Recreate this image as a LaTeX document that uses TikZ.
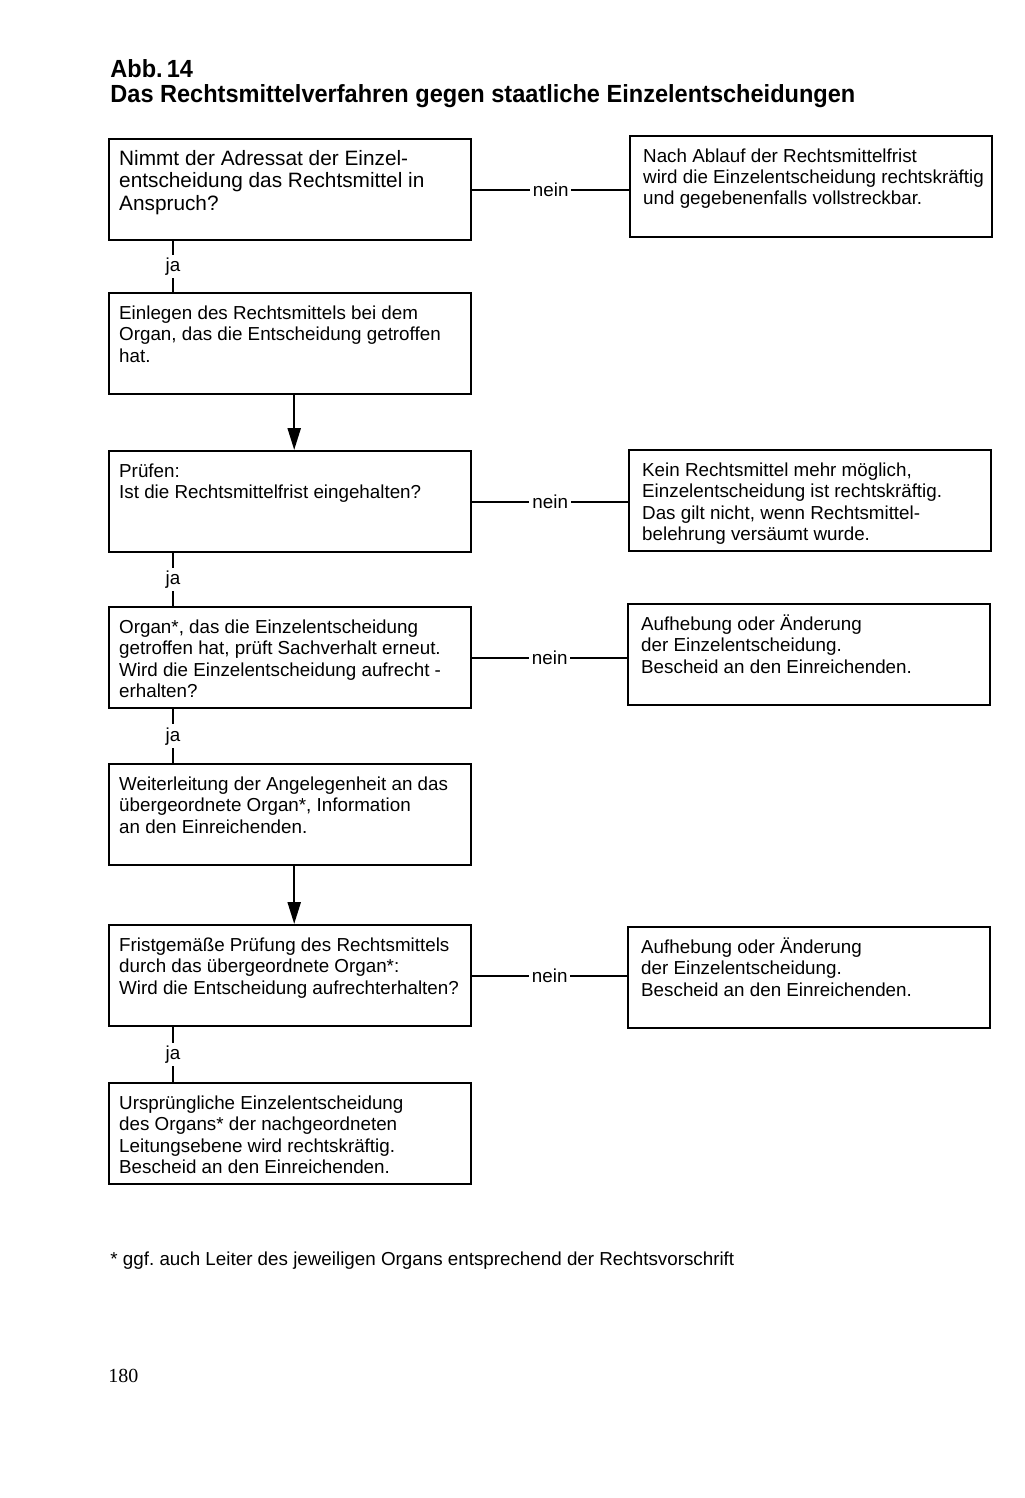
\documentclass[tikz,border=0pt]{standalone}
\usepackage{fontspec}
\setmainfont{Liberation Sans}
\newfontfamily\titlefont[FakeStretch=0.95]{Liberation Sans}
\newfontfamily\pagefont{Liberation Serif}
\usetikzlibrary{arrows.meta}
\frenchspacing

\newcommand{\boxtext}[2][171pt]{%
    \parbox[c][50.5pt][t]{\dimexpr#1+12pt\relax}{\raggedright\rule{0pt}{13pt}#2}\kern-12pt%
}

\tikzset{
    box/.style={draw, line width=1.2pt, anchor=north west, inner xsep=5pt, inner ysep=0pt,
        font=\fontsize{9.4}{10.7}\selectfont},
    rbox/.style={box, inner xsep=6.5pt},
    link/.style={line width=1pt},
    flow/.style={line width=1.2pt, -{Triangle[width=6.5pt,length=11pt]}},
    lbl/.style={fill=white, inner sep=1.5pt, font=\fontsize{9.4}{10.7}\selectfont},
}

\begin{document}
\begin{tikzpicture}[x=0.5pt, y=-0.5pt]
    \useasboundingbox (0,0) rectangle (1024,1498);
    % Heading
    \node[anchor=base west, inner sep=0pt, font=\titlefont\bfseries\fontsize{12.4}{14}\selectfont] (abb) at (110,78) {Abb.\,14};
    \node[anchor=base west, inner sep=0pt, font=\titlefont\bfseries\fontsize{12.4}{14}\selectfont] (title) at (110,103)
        {Das Rechtsmittelverfahren gegen staatliche Einzelentscheidungen};
    % Left column
    \node[box, font=\fontsize{10.4}{11.3}\selectfont] (b1) at (108,138) {\boxtext{Nimmt der Adressat der Einzel-\\entscheidung das Rechtsmittel in\\Anspruch?}};
    \node[box] (b2) at (108,292) {\boxtext{Einlegen des Rechtsmittels bei dem\\Organ, das die Entscheidung getroffen\\hat.}};
    \node[box] (b3) at (108,450) {\boxtext{Prüfen:\\Ist die Rechtsmittelfrist eingehalten?}};
    \node[box] (b4) at (108,606) {\boxtext{Organ*, das die Einzelentscheidung\\getroffen hat, prüft Sachverhalt erneut.\\Wird die Einzelentscheidung aufrecht -\\erhalten?}};
    \node[box] (b5) at (108,763) {\boxtext{Weiterleitung der Angelegenheit an das\\übergeordnete Organ*, Information\\an den Einreichenden.}};
    \node[box] (b6) at (108,924) {\boxtext{Fristgemäße Prüfung des Rechtsmittels\\durch das übergeordnete Organ*:\\Wird die Entscheidung aufrechterhalten?}};
    \node[box] (b7) at (108,1082) {\boxtext{Ursprüngliche Einzelentscheidung\\des Organs* der nachgeordneten\\Leitungsebene wird rechtskräftig.\\Bescheid an den Einreichenden.}};
    % Right column
    \node[rbox] (r1) at (629,135) {\boxtext[168pt]{Nach Ablauf der Rechtsmittelfrist\\wird die Einzelentscheidung rechtskräftig\\und gegebenenfalls vollstreckbar.}};
    \node[rbox] (r2) at (628,449) {\boxtext[168pt]{Kein Rechtsmittel mehr möglich,\\Einzelentscheidung ist rechtskräftig.\\Das gilt nicht, wenn Rechtsmittel-\\belehrung versäumt wurde.}};
    \node[rbox] (r3) at (627,603) {\boxtext[168pt]{Aufhebung oder Änderung\\der Einzelentscheidung.\\Bescheid an den Einreichenden.}};
    \node[rbox] (r4) at (627,926) {\boxtext[168pt]{Aufhebung oder Änderung\\der Einzelentscheidung.\\Bescheid an den Einreichenden.}};
    % ja / nein connectors
    \foreach \a/\b in {b1/b2, b3/b4, b4/b5, b6/b7} {
        \draw[link] ([xshift=32.5pt]\a.south west) -- node[lbl] {ja} ([xshift=32.5pt]\b.north west);
    }
    \foreach \a/\b in {b1/r1, b3/r2, b4/r3, b6/r4} {
        \draw[link] (\a.east) -- node[lbl] {nein} (\b.west |- \a.east);
    }
    \draw[flow] ([xshift=2pt]b2.south) -- ([xshift=2pt]b3.north);
    \draw[flow] ([xshift=2pt]b5.south) -- ([xshift=2pt]b6.north);
    % Footnote and page number
    \node[anchor=base west, inner sep=0pt, font=\fontsize{9.4}{11}\selectfont] (note) at (110,1265)
        {* ggf. auch Leiter des jeweiligen Organs entsprechend der Rechtsvorschrift};
    \node[anchor=base west, inner sep=0pt, font=\pagefont\fontsize{10}{12}\selectfont] (page) at (108,1382) {180};
\end{tikzpicture}
\end{document}
